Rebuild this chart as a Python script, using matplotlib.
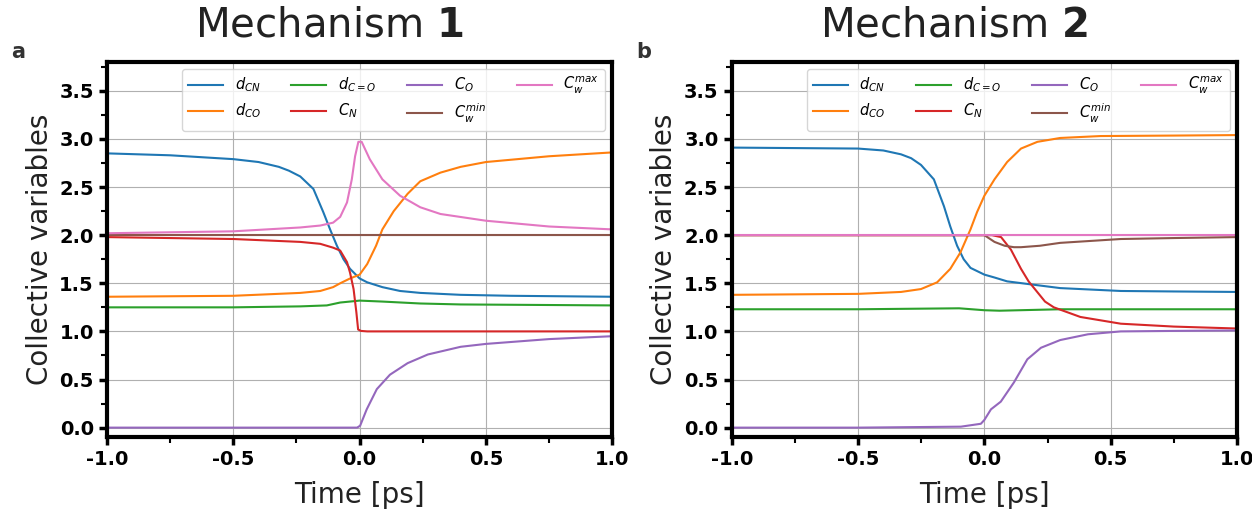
import numpy as np
import matplotlib
matplotlib.use("Agg")
from matplotlib import pyplot as plt
from matplotlib.ticker import MultipleLocator

labels = ["$d_{CN}$", "$d_{CO}$", "$d_{C=O}$", "$C_N$", "$C_O$", "$C_w^{min}$", "$C_w^{max}$"]
colors = ["tab:blue", "tab:orange", "tab:green", "tab:red", "tab:purple", "tab:brown", "tab:pink"]

# mechanism 1 (panel a): (time, value) pairs
m1_dcn = ([-1.0, -0.75, -0.5, -0.4, -0.32, -0.28, -0.235, -0.183, -0.144, -0.117, -0.09, -0.064, -0.038,
           0.0, 0.03, 0.09, 0.16, 0.24, 0.4, 0.6, 0.8, 1.0],
          [2.85, 2.83, 2.79, 2.76, 2.71, 2.67, 2.61, 2.48, 2.24, 2.06, 1.89, 1.75, 1.65,
           1.55, 1.51, 1.46, 1.42, 1.40, 1.38, 1.37, 1.365, 1.36])
m1_dco = ([-1.0, -0.5, -0.235, -0.156, -0.105, -0.077, -0.038, 0.0, 0.03, 0.065, 0.09, 0.135, 0.19,
           0.24, 0.32, 0.4, 0.5, 0.75, 1.0],
          [1.36, 1.37, 1.40, 1.42, 1.46, 1.50, 1.55, 1.59, 1.70, 1.89, 2.06, 2.25, 2.43,
           2.56, 2.65, 2.71, 2.76, 2.82, 2.86])
m1_dc_o = ([-1.0, -0.5, -0.235, -0.13, -0.077, 0.0, 0.09, 0.24, 0.4, 0.7, 1.0],
           [1.25, 1.25, 1.26, 1.27, 1.30, 1.32, 1.31, 1.29, 1.28, 1.275, 1.27])
m1_cn = ([-1.0, -0.5, -0.235, -0.156, -0.105, -0.077, -0.05, -0.038, -0.024, -0.013, -0.006, 0.005,
          0.03, 0.5, 1.0],
         [1.98, 1.96, 1.93, 1.91, 1.87, 1.84, 1.72, 1.61, 1.44, 1.20, 1.02, 1.005,
          1.0, 1.0, 1.0])
m1_co = ([-1.0, -0.5, -0.01, 0.002, 0.028, 0.068, 0.12, 0.19, 0.27, 0.4, 0.5, 0.75, 1.0],
         [0.0, 0.0, 0.0, 0.02, 0.19, 0.40, 0.55, 0.67, 0.76, 0.84, 0.87, 0.92, 0.95])
m1_cwmin = ([-1.0, 0.0, 1.0],
            [2.0, 2.0, 2.0])
m1_cwmax = ([-1.0, -0.5, -0.235, -0.156, -0.105, -0.077, -0.05, -0.031, -0.018, -0.005, 0.008, 0.04,
             0.09, 0.16, 0.24, 0.32, 0.5, 0.75, 1.0],
            [2.02, 2.04, 2.08, 2.10, 2.13, 2.19, 2.34, 2.58, 2.82, 2.97, 2.97, 2.79,
             2.58, 2.41, 2.29, 2.22, 2.15, 2.09, 2.06])

# mechanism 2 (panel b)
m2_dcn = ([-1.0, -0.5, -0.4, -0.33, -0.29, -0.251, -0.2, -0.16, -0.135, -0.108, -0.082, -0.055, 0.0,
           0.04, 0.09, 0.18, 0.3, 0.54, 0.75, 1.0],
          [2.91, 2.90, 2.88, 2.84, 2.80, 2.73, 2.58, 2.30, 2.09, 1.89, 1.75, 1.66, 1.59,
           1.56, 1.52, 1.49, 1.45, 1.42, 1.415, 1.41])
m2_dco = ([-1.0, -0.5, -0.33, -0.251, -0.187, -0.135, -0.095, -0.055, -0.029, 0.0, 0.04, 0.09, 0.145,
           0.21, 0.3, 0.46, 0.75, 1.0],
          [1.38, 1.39, 1.41, 1.44, 1.51, 1.65, 1.82, 2.06, 2.24, 2.41, 2.58, 2.76, 2.90,
           2.97, 3.01, 3.03, 3.035, 3.04])
m2_dc_o = ([-1.0, -0.5, -0.1, 0.0, 0.06, 0.3, 1.0],
           [1.23, 1.23, 1.24, 1.22, 1.215, 1.23, 1.23])
m2_cn = ([-1.0, -0.5, 0.0, 0.03, 0.066, 0.105, 0.145, 0.175, 0.24, 0.275, 0.38, 0.54, 0.75, 1.0],
         [2.0, 2.0, 2.0, 2.0, 1.98, 1.85, 1.65, 1.52, 1.31, 1.25, 1.15, 1.08, 1.05, 1.03])
m2_co = ([-1.0, -0.5, -0.093, -0.014, 0.0, 0.026, 0.065, 0.117, 0.17, 0.224, 0.3, 0.41, 0.54, 0.75, 1.0],
         [0.0, 0.0, 0.01, 0.04, 0.08, 0.19, 0.27, 0.47, 0.71, 0.83, 0.91, 0.97, 1.0, 1.005, 1.01])
m2_cwmin = ([-1.0, -0.5, 0.0, 0.04, 0.08, 0.117, 0.145, 0.22, 0.3, 0.54, 0.75, 1.0],
            [2.0, 2.0, 2.0, 1.93, 1.89, 1.875, 1.875, 1.89, 1.92, 1.96, 1.97, 1.98])
m2_cwmax = ([-1.0, 0.0, 1.0],
            [2.005, 2.005, 2.005])

mech1 = [m1_dcn, m1_dco, m1_dc_o, m1_cn, m1_co, m1_cwmin, m1_cwmax]
mech2 = [m2_dcn, m2_dco, m2_dc_o, m2_cn, m2_co, m2_cwmin, m2_cwmax]

fig = plt.figure(figsize=(12.52, 5.12), dpi=100)
ax1 = fig.add_axes([0.0855, 0.146, 0.4035, 0.733])
ax2 = fig.add_axes([0.5845, 0.146, 0.4035, 0.733])

for ax, data, title, tag in [(ax1, mech1, "Mechanism $\\bf{1}$", "a"),
                             (ax2, mech2, "Mechanism $\\bf{2}$", "b")]:
    for (t, v), lab, col in zip(data, labels, colors):
        ax.plot(t, v, color=col, label=lab, lw=1.5)
    ax.set_xlim(-1, 1)
    ax.set_ylim(-0.1, 3.8)
    ax.xaxis.set_major_locator(MultipleLocator(0.5))
    ax.xaxis.set_minor_locator(MultipleLocator(0.25))
    ax.yaxis.set_major_locator(MultipleLocator(0.5))
    ax.yaxis.set_minor_locator(MultipleLocator(0.25))
    ax.grid(True, which="major", color="#b0b0b0", lw=0.8)
    for s in ax.spines.values():
        s.set_linewidth(3)
    ax.tick_params(which="major", length=6, width=2.5, labelsize=14)
    ax.tick_params(which="minor", length=4, width=1.5)
    for lbl in ax.get_yticklabels():
        lbl.set_fontweight("bold")
    ax.set_xticks([-1, -0.5, 0, 0.5, 1])
    ax.set_xticklabels(["-1.0", "-0.5", "0.0", "0.5", "1.0"], fontweight="bold")
    ax.set_xlabel("Time [ps]", fontsize=20, color="#222222", labelpad=8)
    ax.set_ylabel("Collective variables", fontsize=20, color="#222222")
    ax.set_title(title, fontsize=29, color="#222222", pad=18, x=0.44)
    ax.legend(loc="upper right", ncol=4, fontsize=10.5, handlelength=2.4,
              columnspacing=2.1, borderaxespad=0.5, framealpha=0.8)
    ax.text(-0.19, 1.0, tag, transform=ax.transAxes, fontsize=15,
            fontweight="bold", color="#333333", va="bottom")

fig.savefig("out.png", dpi=100)
